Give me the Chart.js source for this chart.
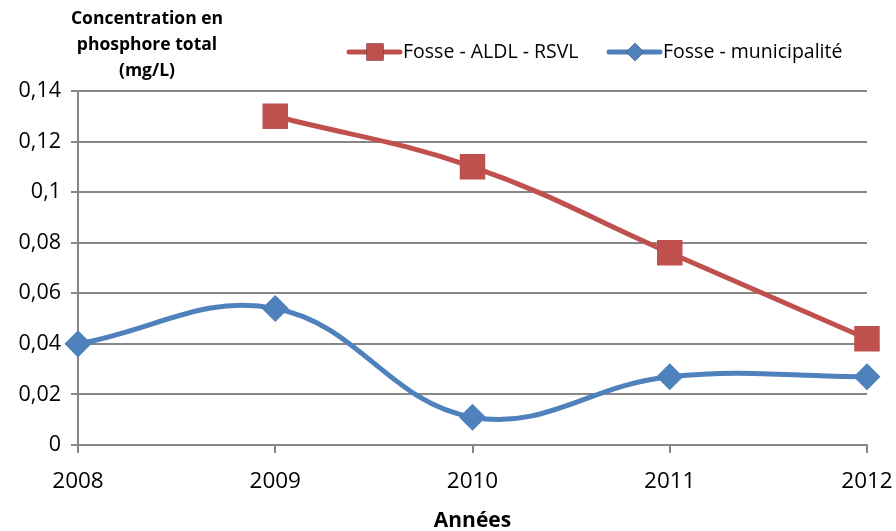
<!DOCTYPE html>
<html>
<head>
<meta charset="utf-8">
<script src="https://cdn.jsdelivr.net/npm/chart.js@4"></script>
<style>
  html, body { margin: 0; padding: 0; background: #fff; }
  #wrap { width: 896px; height: 531px; }
</style>
</head>
<body>
<div id="wrap"><canvas id="myChart" width="896" height="531"></canvas></div>
<script>
// phosphore total par année
const years = ['2008', '2009', '2010', '2011', '2012'];
const fosseAldl = [null, 0.13, 0.11, 0.076, 0.042];
const fosseMunicipalite = [0.04, 0.054, 0.011, 0.027, 0.027];
const seriesNames = ['Fosse - ALDL - RSVL', 'Fosse - municipalité'];
const yTitleLines = ['Concentration en', 'phosphore total', '(mg/L)'];
const xTitle = 'Années';

const FONT = "'Open Sans', sans-serif";
const GRID = '#868686';

// titre vertical + légende dessinés à la main (style Excel)
const decorations = {
  id: 'decorations',
  afterDraw(chart) {
    const ctx = chart.ctx;
    ctx.save();
    ctx.fillStyle = '#000';
    ctx.font = 'bold 17.5px ' + FONT;
    ctx.textAlign = 'center';
    ctx.textBaseline = 'middle';
    yTitleLines.forEach((line, i) => {
      ctx.fillText(line, 147, 19 + i * 26);
    });

    const items = [
      { x: 349, ds: chart.data.datasets[0] },
      { x: 609, ds: chart.data.datasets[1] }
    ];
    items.forEach((it) => {
      const y = 52;
      ctx.strokeStyle = it.ds.borderColor;
      ctx.lineWidth = 5;
      ctx.lineCap = 'round';
      ctx.beginPath();
      ctx.moveTo(it.x, y);
      ctx.lineTo(it.x + 51, y);
      ctx.stroke();
      Chart.helpers.drawPoint(ctx, {
        pointStyle: it.ds.pointStyle,
        radius: it.ds.pointStyle === 'rect' ? 12 : 9,
        rotation: 0,
        borderWidth: 0
      }, it.x + 26, y);
      ctx.fillStyle = it.ds.backgroundColor;
      ctx.fill();
      ctx.fillStyle = '#000';
      ctx.font = '19.5px ' + FONT;
      ctx.textAlign = 'left';
      ctx.fillText(it.ds.label, it.x + 54, y);
    });
    ctx.restore();
  }
};

const chartOptions = {
  type: 'line',
  data: {
    labels: years,
    datasets: [{
      label: seriesNames[0],
      data: fosseAldl,
      borderColor: '#C0504D',
      backgroundColor: '#C0504D',
      borderWidth: 5,
      pointStyle: 'rect',
      pointRadius: 14.5,
      pointHoverRadius: 14.5,
      tension: 0.4
    }, {
      label: seriesNames[1],
      data: fosseMunicipalite,
      borderColor: '#4F81BD',
      backgroundColor: '#4F81BD',
      borderWidth: 5,
      pointStyle: 'rectRot',
      pointRadius: 10,
      pointHoverRadius: 10,
      tension: 0.4
    }]
  },
  options: {
    responsive: false,
    animation: false,
    layout: { padding: { top: 91, right: 29, left: 0, bottom: 0 } },
    plugins: {
      legend: { display: false },
      tooltip: { enabled: false }
    },
    scales: {
      x: {
        offset: false,
        afterFit: (scale) => {
          scale.height = 86;
          scale.paddingLeft = 0;
          scale.paddingRight = 0;
        },
        grid: {
          drawOnChartArea: false,
          drawTicks: true,
          tickLength: 8,
          color: GRID,
          lineWidth: 2
        },
        border: { color: GRID, width: 2 },
        ticks: {
          color: '#000',
          font: { family: FONT, size: 22.5 },
          padding: 15,
          maxRotation: 0
        },
        title: {
          display: true,
          text: xTitle,
          color: '#000',
          font: { family: FONT, size: 21, weight: 'bold' },
          padding: { top: 6, bottom: -3 }
        }
      },
      y: {
        min: 0,
        max: 0.14,
        afterFit: (scale) => { scale.width = 78; },
        grid: {
          color: GRID,
          lineWidth: 2,
          tickLength: 7
        },
        border: { color: GRID, width: 2 },
        ticks: {
          stepSize: 0.02,
          color: '#000',
          padding: 10,
          font: { family: FONT, size: 21.5 },
          callback: (v) => String(Math.round(v * 100) / 100).replace('.', ',')
        }
      }
    }
  },
  plugins: [decorations]
};

const ctx = document.getElementById('myChart');
new Chart(ctx, chartOptions);
</script>
</body>
</html>
